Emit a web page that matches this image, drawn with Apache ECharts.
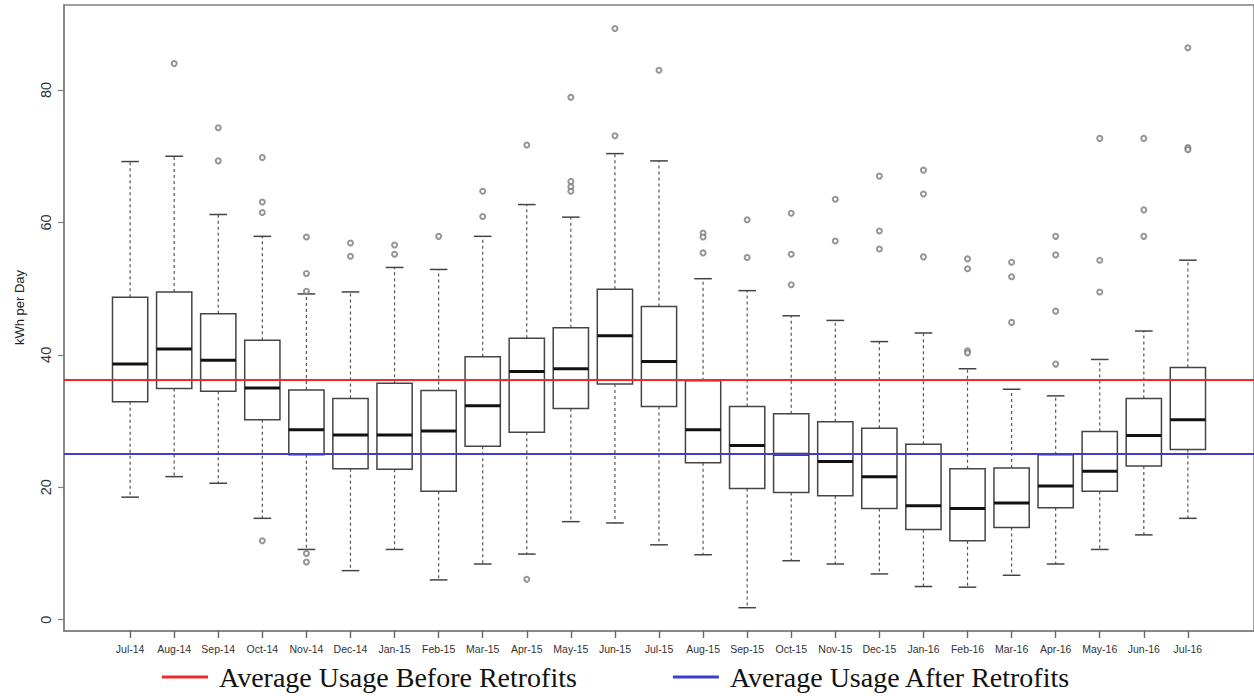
<!DOCTYPE html>
<html>
<head>
<meta charset="utf-8">
<script src="https://cdn.jsdelivr.net/npm/echarts@6/dist/echarts.min.js"></script>
<style>
html,body{margin:0;padding:0;background:#fff;}
#chart{width:1254px;height:696px;}
</style>
</head>
<body>
<div id="chart"></div>
<script>
const months = ['Jul-14','Aug-14','Sep-14','Oct-14','Nov-14','Dec-14','Jan-15','Feb-15','Mar-15','Apr-15','May-15','Jun-15','Jul-15','Aug-15','Sep-15','Oct-15','Nov-15','Dec-15','Jan-16','Feb-16','Mar-16','Apr-16','May-16','Jun-16','Jul-16'];
const whiskerLow  = [18.5, 21.6, 20.6, 15.3, 10.6, 7.4, 10.6, 6.0, 8.4, 9.9, 14.8, 14.6, 11.3, 9.8, 1.8, 8.9, 8.4, 6.9, 5.0, 4.9, 6.7, 8.4, 10.6, 12.8, 15.3];
const q1          = [32.9, 34.9, 34.5, 30.2, 24.9, 22.8, 22.7, 19.4, 26.2, 28.3, 31.9, 35.6, 32.2, 23.7, 19.8, 19.2, 18.7, 16.8, 13.6, 11.9, 13.9, 16.9, 19.4, 23.2, 25.7];
const median      = [38.6, 40.9, 39.2, 35.0, 28.7, 27.9, 27.9, 28.5, 32.3, 37.5, 37.9, 42.9, 39.0, 28.7, 26.3, 25.0, 23.9, 21.6, 17.2, 16.8, 17.6, 20.2, 22.4, 27.8, 30.2];
const q3          = [48.7, 49.5, 46.2, 42.2, 34.7, 33.4, 35.7, 34.6, 39.7, 42.5, 44.1, 49.9, 47.3, 36.1, 32.2, 31.1, 29.9, 28.9, 26.5, 22.8, 22.9, 24.9, 28.4, 33.4, 38.1];
const whiskerHigh = [69.2, 70.0, 61.2, 57.9, 49.2, 49.5, 53.2, 52.9, 57.9, 62.7, 60.8, 70.4, 69.3, 51.5, 49.7, 45.9, 45.2, 42.0, 43.3, 37.9, 34.8, 33.8, 39.3, 43.6, 54.3];
const outliers = [
  [], [84.0], [74.3, 69.3], [69.8, 63.1, 61.5, 11.9], [57.8, 52.3, 49.6, 10.0, 8.7],
  [56.9, 54.9], [56.6, 55.2], [57.9], [64.7, 60.9], [71.7, 6.1],
  [78.9, 66.2, 65.4, 64.7], [89.3, 73.1], [83.0], [58.4, 57.8, 55.4], [60.4, 54.7],
  [61.4, 55.2, 50.6], [63.5, 57.2], [67.0, 58.7, 56.0], [67.9, 64.3, 54.8], [54.5, 53.0, 40.6, 40.3],
  [54.0, 51.8, 44.9], [57.9, 55.1, 46.6, 38.6], [72.7, 54.3, 49.5], [72.7, 61.9, 57.9], [86.4, 71.3, 71.0]
];
const avgBefore = 36.2;
const avgAfter = 25.1;
const yTicks = [0, 20, 40, 60, 80];
const lineNames = ['Average Usage Before Retrofits', 'Average Usage After Retrofits'];

// one empty slot on each side gives the R-style padding of the x range
const axisCategories = [''].concat(months, ['']);
const Y_MIN = -1.72, Y_MAX = 92.85;

const boxData = months.map((m, i) => [i + 1, whiskerLow[i], q1[i], median[i], q3[i], whiskerHigh[i]]);
const outlierData = [];
outliers.forEach((arr, i) => arr.forEach(v => outlierData.push([i + 1, v])));
const isMonthSlot = idx => idx >= 1 && idx <= months.length;

const chart = echarts.init(document.getElementById('chart'), null, {renderer: 'svg'});

function renderBox(params, api) {
  const x = api.value(0);
  const unit = api.size([1, 0])[0];
  const bw = unit * 0.8, sw = unit * 0.4;
  const pLow = api.coord([x, api.value(1)]);
  const pQ1 = api.coord([x, api.value(2)]);
  const pMed = api.coord([x, api.value(3)]);
  const pQ3 = api.coord([x, api.value(4)]);
  const pHigh = api.coord([x, api.value(5)]);
  const cx = pMed[0];
  const dash = {stroke: '#555', lineWidth: 1.2, lineDash: [3, 3], fill: null};
  const solid = {stroke: '#444', lineWidth: 1.5, fill: null};
  return {
    type: 'group',
    children: [
      {type: 'line', shape: {x1: cx, y1: pQ3[1], x2: cx, y2: pHigh[1]}, style: dash},
      {type: 'line', shape: {x1: cx, y1: pQ1[1], x2: cx, y2: pLow[1]}, style: dash},
      {type: 'line', shape: {x1: cx - sw / 2, y1: pHigh[1], x2: cx + sw / 2, y2: pHigh[1]}, style: solid},
      {type: 'line', shape: {x1: cx - sw / 2, y1: pLow[1], x2: cx + sw / 2, y2: pLow[1]}, style: solid},
      {type: 'rect', shape: {x: cx - bw / 2, y: pQ3[1], width: bw, height: pQ1[1] - pQ3[1]}, style: {stroke: '#444', lineWidth: 1.5, fill: 'none'}},
      {type: 'line', shape: {x1: cx - bw / 2, y1: pMed[1], x2: cx + bw / 2, y2: pMed[1]}, style: {stroke: '#111', lineWidth: 3}}
    ]
  };
}

function avgLine(name, value, color) {
  return {
    type: 'line', name: name, data: [], symbol: 'none', color: color,
    lineStyle: {color: color, width: 2}, z: 4,
    markLine: {
      silent: true, symbol: 'none', animation: false,
      label: {show: false},
      lineStyle: {color: color, width: 2, type: 'solid'},
      emphasis: {disabled: true},
      data: [{yAxis: value}]
    }
  };
}

const option = {
  animation: false,
  backgroundColor: '#fff',
  grid: {left: 64, top: 5, width: 1192, height: 626, show: true, borderColor: '#808080', borderWidth: 1.5, backgroundColor: 'transparent'},
  xAxis: [
    {
      type: 'category', data: axisCategories, boundaryGap: true,
      splitLine: {show: false},
      axisLine: {show: true, onZero: false, lineStyle: {color: '#808080', width: 1.5}},
      axisTick: {show: false},
      axisLabel: {
        interval: 0, margin: 12,
        fontFamily: 'Liberation Sans, Arial, sans-serif', fontSize: 10.5, color: '#333'
      }
    },
    {
      type: 'category', data: axisCategories, boundaryGap: true, position: 'bottom', offset: 0,
      splitLine: {show: false},
      axisLine: {show: false, onZero: false},
      axisLabel: {show: false},
      axisTick: {show: true, alignWithLabel: true, interval: isMonthSlot, length: 7, lineStyle: {color: '#666', width: 1.4}}
    }
  ],
  yAxis: {
    type: 'value', min: Y_MIN, max: Y_MAX,
    splitLine: {show: false},
    axisLine: {show: true, onZero: false, lineStyle: {color: '#808080', width: 1.5}},
    axisTick: {show: true, customValues: yTicks, length: 6, lineStyle: {color: '#808080', width: 1.2}},
    axisLabel: {customValues: yTicks, rotate: 90, margin: 11, fontFamily: 'Liberation Sans, Arial, sans-serif', fontSize: 14.5, color: '#333'},
    name: 'kWh per Day', nameLocation: 'middle', nameGap: 38,
    nameTextStyle: {fontFamily: 'Liberation Sans, Arial, sans-serif', fontSize: 13, color: '#222', padding: [0, 0, 0, 21]}
  },
  legend: {
    data: lineNames,
    left: 162, top: 663, padding: 0,
    icon: 'rect', itemWidth: 46, itemHeight: 3, itemGap: 96,
    textStyle: {fontFamily: 'Liberation Serif, Times New Roman, serif', fontSize: 28, color: '#111', padding: [0, 0, 0, 6], lineHeight: 28},
    selectedMode: false
  },
  series: [
    {type: 'custom', name: 'boxes', renderItem: renderBox, data: boxData, encode: {x: 0, y: [1, 2, 3, 4, 5]}, z: 2},
    {type: 'scatter', name: 'outliers', data: outlierData, symbol: 'emptyCircle', symbolSize: 5,
      itemStyle: {color: '#7a7a7a', borderWidth: 0.9}, z: 3},
    avgLine(lineNames[0], avgBefore, '#ee2b2b'),
    avgLine(lineNames[1], avgAfter, '#3d3dcf')
  ]
};
chart.setOption(option);
</script>
</body>
</html>
